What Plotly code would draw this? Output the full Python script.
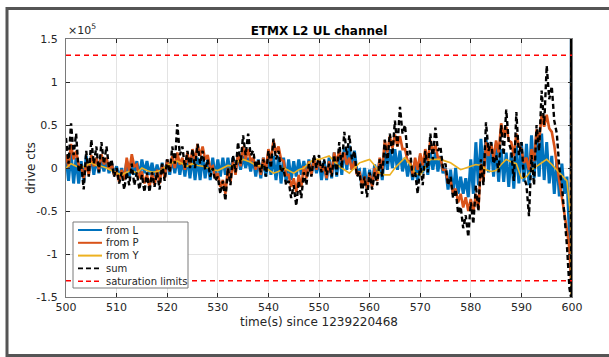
import plotly.graph_objects as go

# ETMX L2 UL drive signal contributions, thousands of counts.
# Each second t carries the local high (drawn at t) and low (drawn at t + 0.5).
T_START = 500
SECONDS = list(range(500, 600))

L_HI = [15, 18, 12, 8, 14, 14, 12, 10, 10, 6, 2, 0, 8, 10, 8, 10, 8, 6, 4, 6,
        10, 12, 12, 10, 14, 14, 12, 14, 10, 12, 10, 12, 12, 12, 14, 14, 12, 12, 10, 12,
        14, 14, 14, 12, 10, 8, 10, 8, 10, 12, 10, 8, 12, 18, 18, 24, 26, 20, -2, 0,
        -2, 4, 10, 20, 22, 22, 20, 12, 8, 6, 14, 14, 18, 18, 14, 0, -2, 0, -10, -12,
        10, 30, 34, 36, 30, 26, 22, 18, 18, 26, 30, 28, 38, 40, 40, 30, 14, 10, 5, -10]
L_LO = [-15, -18, -18, -16, -6, -8, -6, -4, -6, -8, -12, -14, -10, -8, -10, -6, -8, -10, -10, -10,
        -8, -6, -8, -10, -12, -14, -14, -12, -14, -12, -10, -8, -8, -4, -2, 0, -4, -10, -12, -10,
        -8, -14, -18, -16, -14, -10, -8, -8, -8, -6, -14, -14, -12, -10, -8, -2, -2, -4, -22, -24,
        -20, -14, -14, -2, 0, -2, -4, -10, -14, -16, -6, -8, -2, -4, -6, -25, -30, -30, -30, -34,
        -30, -20, -5, -5, -10, -16, -16, -22, -24, -18, -16, -20, -12, -10, -14, -18, -30, -33, -30, -75]

P_HI = [15, 28, 20, 2, 6, 15, 12, 16, 12, 6, -4, -2, 12, 16, 4, -4, -8, -6, -2, 4,
        10, 14, 18, 12, 18, 22, 28, 25, 15, 2, -6, -14, 0, 8, 18, 25, 22, 12, 8, 12,
        22, 32, 25, 8, -8, -12, -8, 2, 8, 12, 10, 2, 8, 18, 20, 18, 12, 8, -4, -10,
        -6, 0, 12, 32, 37, 39, 37, 22, 8, 12, 17, 22, 32, 27, 12, -2, -14, -24, -30, -34,
        -36, -30, 5, 30, 28, 32, 52, 48, 30, 40, 22, 12, 22, 45, 62, 62, 42, 4, -36, -72]
P_LO = [1, 10, 4, -12, -8, 2, -2, 4, -2, -8, -16, -14, -4, 2, -12, -18, -22, -20, -18, -12,
        -4, 0, 4, -2, 2, 8, 14, 10, 0, -12, -22, -30, -16, -8, 2, 10, 8, -2, -8, -2,
        8, 18, 10, -8, -22, -28, -22, -12, -8, -2, -4, -12, -8, 6, 8, 4, -2, -8, -20, -25,
        -22, -15, -2, 18, 23, 25, 22, 8, -8, -2, 3, 8, 18, 12, -2, -18, -30, -40, -46, -50,
        -52, -48, -15, 14, 12, 18, 38, 32, 14, 26, 6, -2, 8, 30, 48, 46, 26, -14, -54, -95]

Y_VAL = [0, 5, 2, 0, 3, 6, 3, 2, 0, -3, -6, -8, -5, -3, -6, 0, -3, -5, -4, -2,
         3, 6, 8, 5, 2, 5, 3, 2, 0, -2, -3, 0, 3, 2, 8, 10, 8, 5, 3, 2,
         -2, -6, -4, 0, -3, -6, -2, 0, 6, 10, 10, 12, 14, 8, 2, -2, -6, 0, 6, 8,
         10, 3, -6, -8, -8, 0, 6, 12, 4, -6, -8, 0, 10, 10, 10, 8, 6, 2, -2, 0,
         2, 4, 3, -2, -4, -3, 4, 10, 7, 5, -12, -10, -2, 2, 6, 10, 4, -2, -8, -15]

S_HI = [35, 52, 40, 5, 20, 33, 25, 30, 25, 10, 0, -5, -5, 5, -5, -8, -5, -5, -5, 5,
        10, 25, 51, 25, 20, 22, 28, 20, 10, 0, -10, -15, 0, 15, 30, 38, 40, 20, 10, 10,
        20, 34, 20, 0, -15, -20, -15, -5, 5, 15, 15, 10, 5, 15, 30, 42, 38, 20, -5, -10,
        -5, -5, 10, 33, 40, 55, 71, 50, 20, -5, 5, 20, 40, 47, 25, 5, -10, -25, -45, -55,
        -40, -20, 10, 53, 30, 15, 50, 68, 20, 65, 30, -20, 15, 50, 90, 119, 95, 40, -20, -90]
S_LO = [5, 15, -5, -25, -10, 5, -5, 5, 0, -10, -18, -25, -20, -20, -25, -28, -28, -22, -25, -15,
        -5, 5, 15, 0, 0, 0, 5, -2, -10, -15, -30, -38, -20, -5, 5, 15, 15, 0, -5, -10,
        0, 10, -5, -20, -35, -44, -35, -20, -10, 0, -5, -8, -10, -8, 0, 15, 10, -10, -30, -34,
        -25, -20, -10, 5, 15, 25, 40, 15, -10, -30, -20, -5, 10, 20, 0, -20, -35, -53, -70, -80,
        -65, -50, -20, 20, 5, -5, 15, 30, -15, 15, -10, -56, -20, 20, 50, 80, 55, 0, -55, -140]

# Final fraction of a second: the drive swings through the full range.
TAIL_T = [599.8, 599.85, 599.9, 599.95, 600.0]
L_TAIL = [-120, 160, -160, 160, -160]
P_TAIL = [-130, 160, -160, 160, -160]
Y_TAIL = [-60, -160, 160, -160, 160]
S_TAIL = [-150, 160, -160, 160, -160]

SATURATION = 131072  # 2**17 counts
SCALE = 1000

COLOR_L = "#0072BD"
COLOR_P = "#D95319"
COLOR_Y = "#EDB120"
COLOR_SAT = "#FF0000"
FONT = "DejaVu Sans"
TEXT = "#262626"

LEGEND_LABELS = ["from L", "from P", "from Y", "sum", "saturation limits"]
LEGEND_COLORS = [COLOR_L, COLOR_P, COLOR_Y, "black", COLOR_SAT]
LEGEND_DASHES = ["solid", "solid", "solid", "5px,3px", "5px,3px"]

# plot-area geometry in pixels (for paper-coordinate helpers)
FIG_W, FIG_H = 609, 357
M_L, M_R, M_T, M_B = 66, 37, 39, 60
PLOT_W = FIG_W - M_L - M_R
PLOT_H = FIG_H - M_T - M_B


def px_x(x):
    return (x - M_L) / PLOT_W


def px_y(y):
    return (FIG_H - M_B - y) / PLOT_H


def zigzag(hi, lo, tail):
    xs, ys = [], []
    for t, h, l in zip(SECONDS, hi, lo):
        xs += [t, t + 0.5]
        ys += [h * SCALE, l * SCALE]
    xs += TAIL_T
    ys += [v * SCALE for v in tail]
    return xs, ys


fig = go.Figure()

xl, yl = zigzag(L_HI, L_LO, L_TAIL)
fig.add_trace(go.Scatter(x=xl, y=yl, mode="lines", name="from L",
                         line=dict(color=COLOR_L, width=3.0)))
xp, yp = zigzag(P_HI, P_LO, P_TAIL)
fig.add_trace(go.Scatter(x=xp, y=yp, mode="lines", name="from P",
                         line=dict(color=COLOR_P, width=2.6)))
fig.add_trace(go.Scatter(x=SECONDS + TAIL_T,
                         y=[v * SCALE for v in Y_VAL + Y_TAIL],
                         mode="lines", name="from Y",
                         line=dict(color=COLOR_Y, width=1.6)))
xs, ys = zigzag(S_HI, S_LO, S_TAIL)
fig.add_trace(go.Scatter(x=xs, y=ys, mode="lines", name="sum",
                         line=dict(color="black", width=2.4, dash="5px,3px")))
fig.add_trace(go.Scatter(x=[T_START, 600, None, T_START, 600],
                         y=[SATURATION, SATURATION, None, -SATURATION, -SATURATION],
                         mode="lines", name="saturation limits",
                         line=dict(color=COLOR_SAT, width=1.5, dash="5px,4px")))

Y_TICKS = [-150000, -100000, -50000, 0, 50000, 100000, 150000]
Y_TICK_TEXT = ["-1.5", "-1", "-0.5", "0", "0.5", "1", "1.5"]

axis_common = dict(
    showline=True, linecolor="#7a7a7a", linewidth=1, mirror="allticks",
    ticks="inside", ticklen=4, tickcolor=TEXT, tickwidth=1,
    showgrid=True, gridcolor="#e3e3e3", gridwidth=1, zeroline=False,
    tickfont=dict(family=FONT, size=11, color=TEXT),
)

fig.update_layout(
    width=FIG_W, height=FIG_H,
    margin=dict(l=M_L, r=M_R, t=M_T, b=M_B),
    paper_bgcolor="white", plot_bgcolor="white",
    font=dict(family=FONT, size=11, color=TEXT),
    title=dict(text="<b>ETMX L2 UL channel</b>", x=0.5, xref="paper",
               y=1 - 31 / FIG_H, yanchor="middle",
               font=dict(family=FONT, size=12, color="black")),
    xaxis=dict(range=[500, 600], dtick=10, tick0=500,
               title=dict(text="time(s) since 1239220468", standoff=4,
                          font=dict(family=FONT, size=12, color=TEXT)),
               **axis_common),
    yaxis=dict(range=[-150000, 150000], tickvals=Y_TICKS, ticktext=Y_TICK_TEXT,
               ticklabelstandoff=5, **axis_common),
    showlegend=False,
)

# y-axis label and exponent marker
fig.add_annotation(text="drive cts", xref="paper", yref="paper",
                   x=px_x(31), y=0.5, xanchor="center", yanchor="middle",
                   textangle=-90, showarrow=False,
                   font=dict(family=FONT, size=12, color=TEXT))
fig.add_annotation(text="\u00d710<sup>5</sup>", xref="paper", yref="paper",
                   x=0.0, y=1.0, xanchor="left", yanchor="bottom", showarrow=False,
                   font=dict(family=FONT, size=11, color=TEXT))

# legend box with line samples and labels
fig.add_shape(type="rect", xref="paper", yref="paper",
              x0=px_x(73), x1=px_x(188), y0=px_y(288), y1=px_y(222),
              line=dict(color="#7a7a7a", width=1), fillcolor="white", layer="above")
for i, (label, color, dash) in enumerate(zip(LEGEND_LABELS, LEGEND_COLORS, LEGEND_DASHES)):
    yy = px_y(230 + 12.8 * i)
    fig.add_shape(type="line", xref="paper", yref="paper",
                  x0=px_x(78), x1=px_x(102), y0=yy, y1=yy,
                  line=dict(color=color, width=2 if i < 3 else 1.6, dash=dash),
                  layer="above")
    fig.add_annotation(text=label, xref="paper", yref="paper",
                       x=px_x(104), y=yy, xanchor="left", yanchor="middle",
                       showarrow=False, font=dict(family=FONT, size=10, color=TEXT))

# figure frame (open on the right)
fig.add_shape(type="rect", xref="paper", yref="paper",
              x0=px_x(7), x1=px_x(660),
              y0=px_y(355.5), y1=px_y(8.5),
              line=dict(color="#555555", width=3), fillcolor="rgba(0,0,0,0)")

fig.write_html("out.html")
